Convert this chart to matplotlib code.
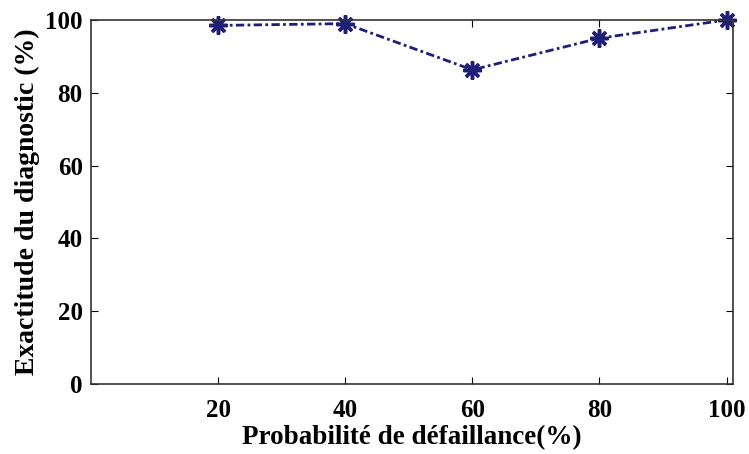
import numpy as np
import matplotlib
matplotlib.use('Agg')
from matplotlib import pyplot as plt

prob = [20, 40, 60, 80, 100]
accuracy = [98.5, 99.0, 86.3, 95.0, 100.0]
xticks = [20, 40, 60, 80, 100]
yticks = [0, 20, 40, 60, 80, 100]

plt.rcParams['font.family'] = ['Liberation Serif', 'DejaVu Serif']
plt.rcParams['font.weight'] = 'bold'

fig = plt.figure(figsize=(7.49, 4.54), dpi=100)
ax = fig.add_axes([0.1215, 0.1542, 0.857, 0.8018])
ln, = ax.plot(prob, accuracy, color='#1f1f7a', linestyle='-.', linewidth=2,
              marker=(8, 2, 0), markersize=13, markeredgewidth=2.5, clip_on=False)
ln.set_dashes((3, 1.2, 1, 1.2))
ax.set_xlim(0, 101)
ax.set_ylim(0, 100)
ax.set_xticks(xticks)
ax.set_yticks(yticks)
ax.tick_params(direction='in', top=True, right=True, labelsize=18, length=5)
ax.tick_params(axis='x', pad=11)
ax.tick_params(axis='y', pad=6)
for s in ax.spines.values():
  s.set_color('#333333')
  s.set_linewidth(1.2)
ax.set_xlabel('Probabilité de défaillance(%)', fontsize=19.5, fontweight='bold', labelpad=2)
ax.set_ylabel('Exactitude du diagnostic (%)', fontsize=20, fontweight='bold', labelpad=4)

fig.savefig('out.png', dpi=100)
